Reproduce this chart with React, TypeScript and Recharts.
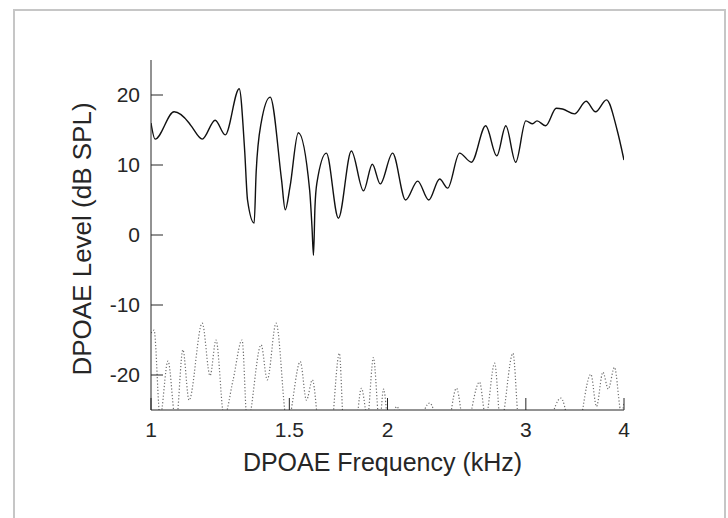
import { Label, Line, LineChart, XAxis, YAxis } from "recharts";

// DPOAE level (solid) sampled at frequency in kHz
const dpFreq = [
  1.0, 1.012, 1.07, 1.118, 1.128, 1.162, 1.207, 1.243, 1.295, 1.316, 1.327, 1.353, 1.361, 1.381,
  1.418, 1.466, 1.482, 1.503, 1.54, 1.592, 1.603, 1.61, 1.617, 1.626, 1.672, 1.732, 1.799, 1.864,
  1.913, 1.958, 2.03, 2.109, 2.185, 2.257, 2.33, 2.386, 2.47, 2.558, 2.667, 2.755, 2.829, 2.912,
  3.0, 3.06, 3.1, 3.18, 3.28, 3.34, 3.46, 3.58, 3.68, 3.8, 3.92, 4.0,
];
const dpLevel = [
  16.0, 13.7, 17.6, 16.0, 15.4, 13.7, 16.4, 14.3, 20.9, 12.0, 5.0, 1.7, 9.0, 16.0,
  19.7, 7.9, 3.6, 6.9, 14.6, 6.4, 1.1, -2.9, 4.0, 7.4, 11.7, 2.4, 12.0, 6.3,
  10.1, 7.3, 11.7, 5.0, 7.7, 5.0, 8.0, 6.7, 11.7, 10.4, 15.6, 11.3, 15.6, 10.4,
  16.3, 15.9, 16.3, 15.6, 18.1, 18.0, 17.3, 19.1, 17.6, 19.3, 15.0, 10.7,
];

// noise floor (dotted), dips below -25 get clipped by the axis
const nfFreq = [
  1.0, 1.009, 1.027, 1.051, 1.076, 1.098, 1.118, 1.162, 1.189, 1.21, 1.239, 1.272, 1.306, 1.326,
  1.381, 1.406, 1.443, 1.491, 1.549, 1.577, 1.605, 1.638, 1.687, 1.737, 1.758, 1.81, 1.853, 1.886,
  1.919, 1.954, 1.977, 2.01, 2.054, 2.135, 2.263, 2.364, 2.448, 2.51, 2.619, 2.667, 2.738, 2.787,
  2.889, 2.94, 3.125, 3.325, 3.46, 3.63, 3.69, 3.76, 3.82, 3.89, 3.97, 4.0,
];
const nfLevel = [
  -14, -13.6, -26, -18, -27, -16.4, -23.6, -12.6, -20.1, -15, -26, -20.7, -15, -27,
  -15.7, -20.7, -12.6, -27, -18.1, -23.6, -20.7, -28, -30, -16.9, -27, -30, -21.9, -26,
  -17.5, -27, -22, -28, -24.5, -30, -24, -30, -21.9, -28, -21, -26, -18.3, -27,
  -16.9, -27, -30, -23.3, -30, -19.9, -24.5, -19.6, -22, -18.9, -25.5, -24,
];

const xTicks = [1, 1.5, 2, 3, 4];
const yTicks = [-20, -10, 0, 10, 20];

const dpData = dpFreq.map((f, i) => ({ f, v: dpLevel[i] }));
const nfData = nfFreq.map((f, i) => ({ f, v: nfLevel[i] }));

const font = "'Liberation Sans', Arial, sans-serif";
const ink = "#262626";

export default function App() {
  return (
    <div style={{ position: "absolute", left: 0, top: 0, width: 728, height: 518, background: "#fff", overflow: "hidden" }}>
      <div style={{ position: "absolute", left: 13, top: 9, width: 709, height: 540, border: "2px solid #c6c6c6" }} />
      <div style={{ position: "absolute", left: 0, top: 0 }}>
        <LineChart width={728} height={518} margin={{ top: 60, right: 104, bottom: 48, left: 51 }}>
          <XAxis type="number" dataKey="f" scale="log" domain={[1, 4]} ticks={xTicks} allowDataOverflow
            tickFormatter={(v: number) => String(v)} stroke={ink} tickSize={-12} tickMargin={24} height={60}
            tick={{ fill: ink, fontSize: 21, fontFamily: font }}>
            <Label value="DPOAE Frequency (kHz)" position="center" dx={-5} dy={22} fill={ink} fontSize={25} fontFamily={font} />
          </XAxis>
          <YAxis type="number" dataKey="v" domain={[-25, 25]} ticks={yTicks} allowDataOverflow
            stroke={ink} tickSize={-12} tickMargin={23} width={100}
            tick={{ fill: ink, fontSize: 21, fontFamily: font }}>
            <Label value="DPOAE Level (dB SPL)" position="center" angle={-90} dx={-19} dy={4} fill={ink} fontSize={26} fontFamily={font} />
          </YAxis>
          <Line data={nfData} dataKey="v" type="monotone" stroke="#6e6e6e" strokeWidth={1.2}
            strokeDasharray="1.2 2" dot={false} isAnimationActive={false} />
          <Line data={dpData} dataKey="v" type="monotone" stroke="#111" strokeWidth={1.4}
            dot={false} isAnimationActive={false} />
        </LineChart>
      </div>
    </div>
  );
}
